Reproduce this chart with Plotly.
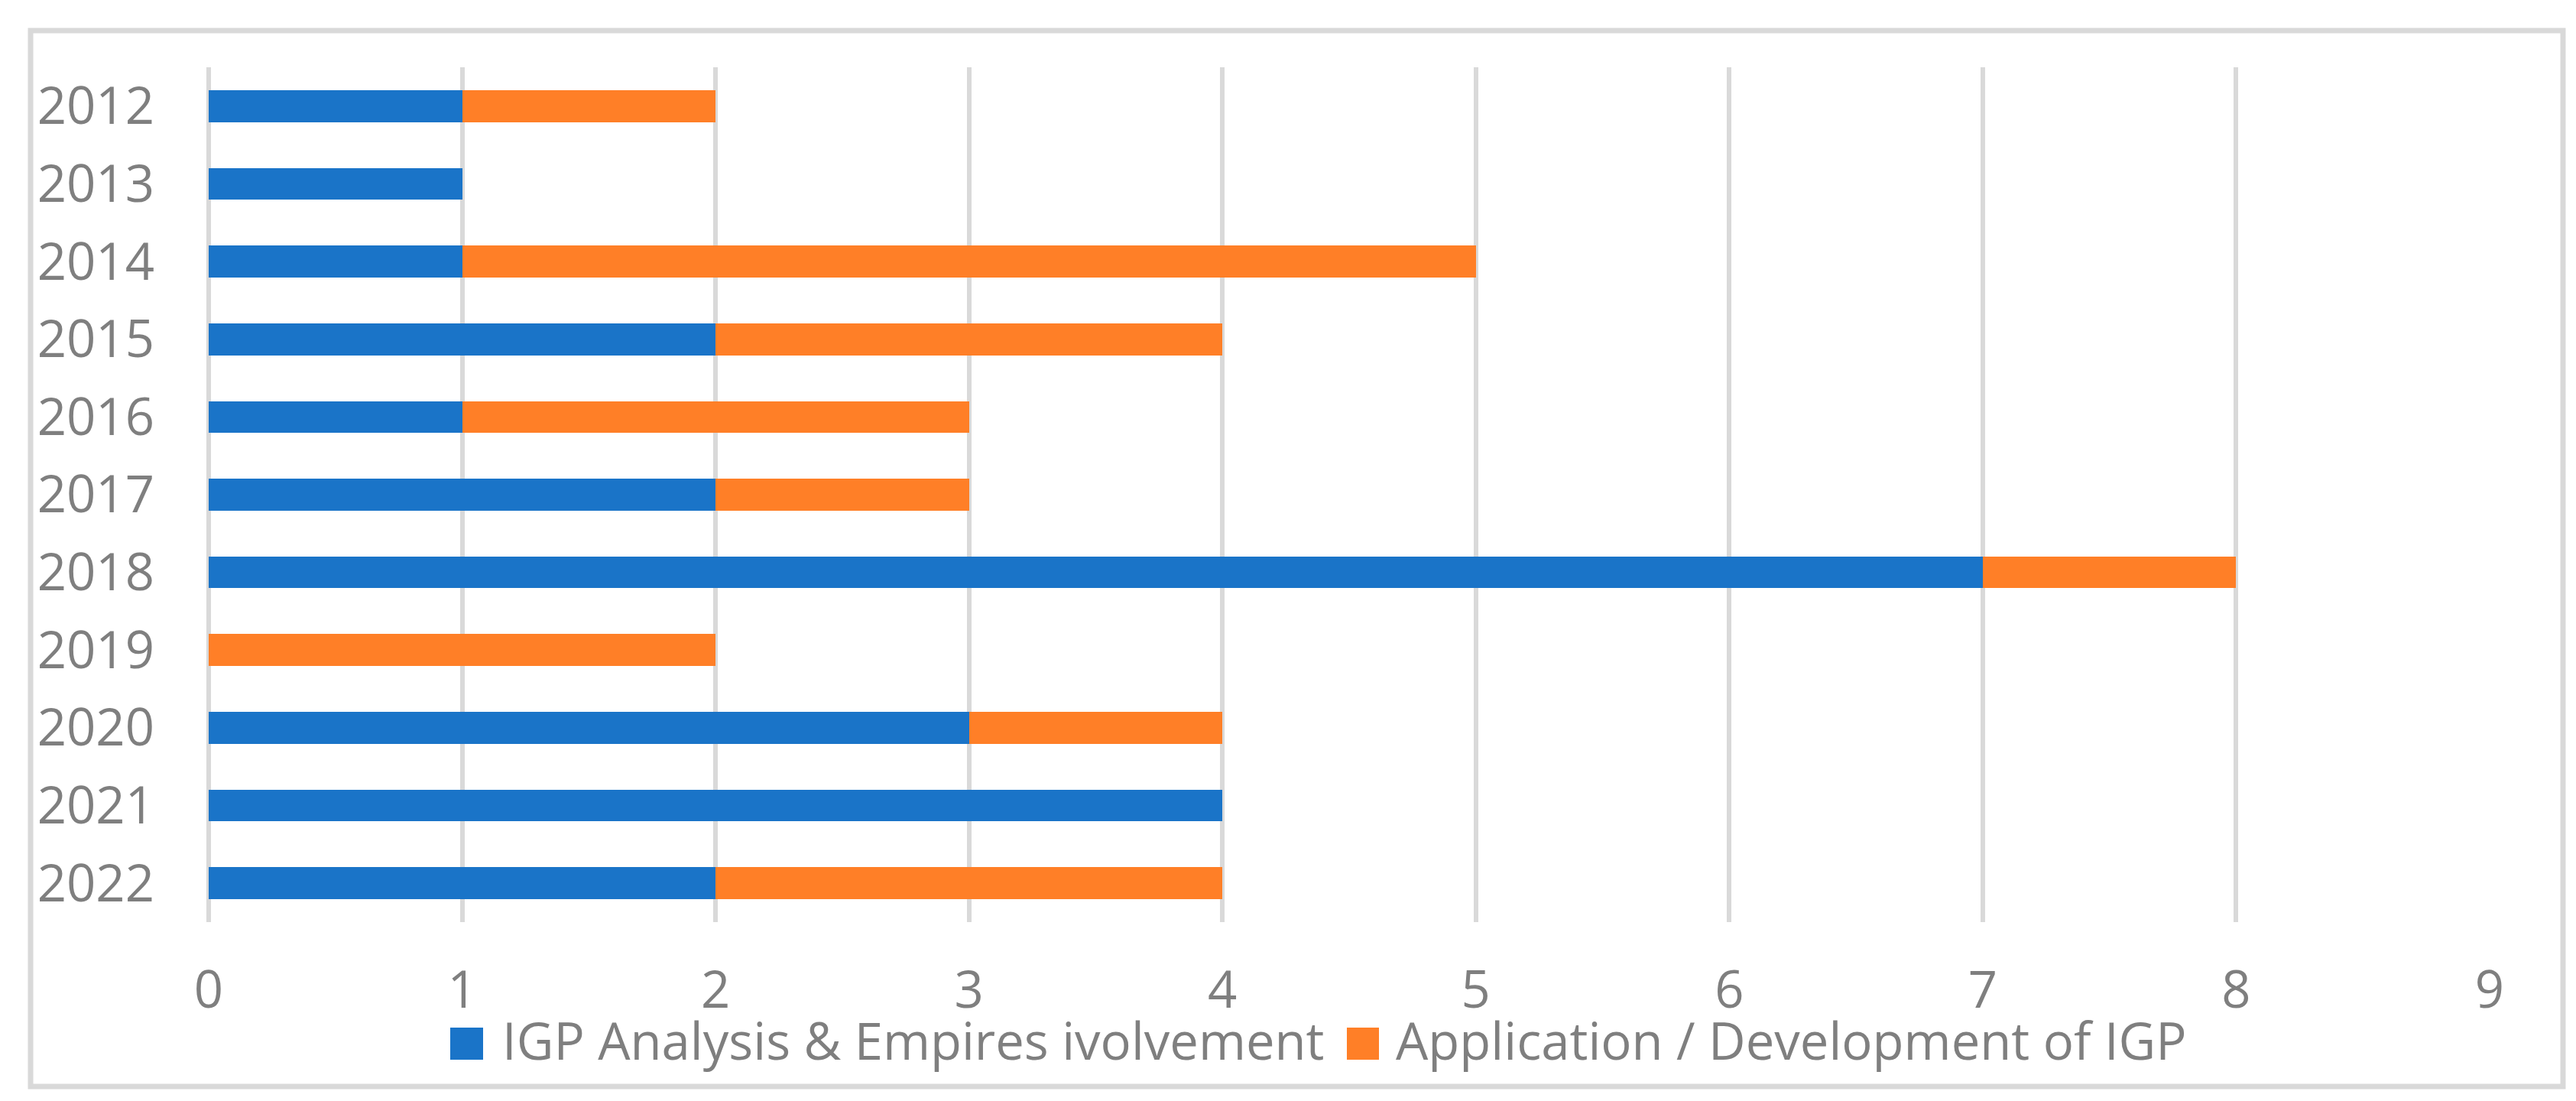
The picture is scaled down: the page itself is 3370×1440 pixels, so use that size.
import plotly.graph_objects as go

years = ["2012", "2013", "2014", "2015", "2016", "2017", "2018", "2019", "2020", "2021", "2022"]
analysis = [1, 1, 1, 2, 1, 2, 7, 0, 3, 4, 2]
application = [1, 0, 4, 2, 2, 1, 1, 2, 1, 0, 2]
series_names = ["IGP Analysis & Empires ivolvement", "Application / Development of IGP"]
x_ticks = [0, 1, 2, 3, 4, 5, 6, 7, 8, 9]

BLUE = "#1A74C8"
ORANGE = "#FF7F27"
GRAY_TXT = "#7F7F7F"
GRID = "#D9D9D9"
FONT = "Open Sans"
colors = [BLUE, ORANGE]

W, H = 3370, 1440
L, R, T, B = 265, 121, 80, 242

fig = go.Figure()
fig.add_trace(go.Bar(y=years, x=analysis, orientation="h", name=series_names[0],
                     marker=dict(color=BLUE, line=dict(width=0)), showlegend=False))
fig.add_trace(go.Bar(y=years, x=application, orientation="h", name=series_names[1],
                     marker=dict(color=ORANGE, line=dict(width=0)), showlegend=False))

pw = W - L - R
ph = H - T - B
def px2paper_x(px):
    return (px - L) / pw
def px2paper_y(py):
    return (H - B - py) / ph

# chart-area border
fig.add_shape(type="rect", xref="paper", yref="paper",
              x0=px2paper_x(32), x1=px2paper_x(3345), y0=px2paper_y(1413), y1=px2paper_y(32),
              line=dict(color=GRID, width=7), fillcolor="rgba(0,0,0,0)", layer="below")

# legend (swatch + label) below the axis
legend_sw = [(581, 624), (1754, 1796)]
legend_tx = [647, 1816]
for i in range(2):
    fig.add_shape(type="rect", xref="paper", yref="paper",
                  x0=px2paper_x(legend_sw[i][0]), x1=px2paper_x(legend_sw[i][1]),
                  y0=px2paper_y(1378), y1=px2paper_y(1336),
                  line=dict(width=0), fillcolor=colors[i])
    fig.add_annotation(xref="paper", yref="paper", x=px2paper_x(legend_tx[i]), y=px2paper_y(1352),
                       xanchor="left", yanchor="middle", text=series_names[i], showarrow=False,
                       font=dict(size=67, color=GRAY_TXT, family=FONT))

fig.update_layout(
    width=W, height=H,
    margin=dict(l=L, r=R, t=T, b=B, pad=0),
    barmode="stack",
    bargap=0.59,
    paper_bgcolor="white",
    plot_bgcolor="white",
    font=dict(family=FONT, color=GRAY_TXT, size=67),
    showlegend=False,
    xaxis=dict(range=[0, 9], tickvals=x_ticks, showgrid=True, gridcolor=GRID, gridwidth=6,
               zeroline=True, zerolinecolor=GRID, zerolinewidth=6, showline=False,
               ticks="", ticklabelstandoff=44, tickfont=dict(size=67, color=GRAY_TXT)),
    yaxis=dict(type="category", categoryorder="array", categoryarray=years,
               autorange="reversed", showgrid=False, zeroline=False, showline=False,
               ticks="", ticklabelstandoff=70, tickfont=dict(size=67, color=GRAY_TXT)),
)

fig.write_html("out.html")
